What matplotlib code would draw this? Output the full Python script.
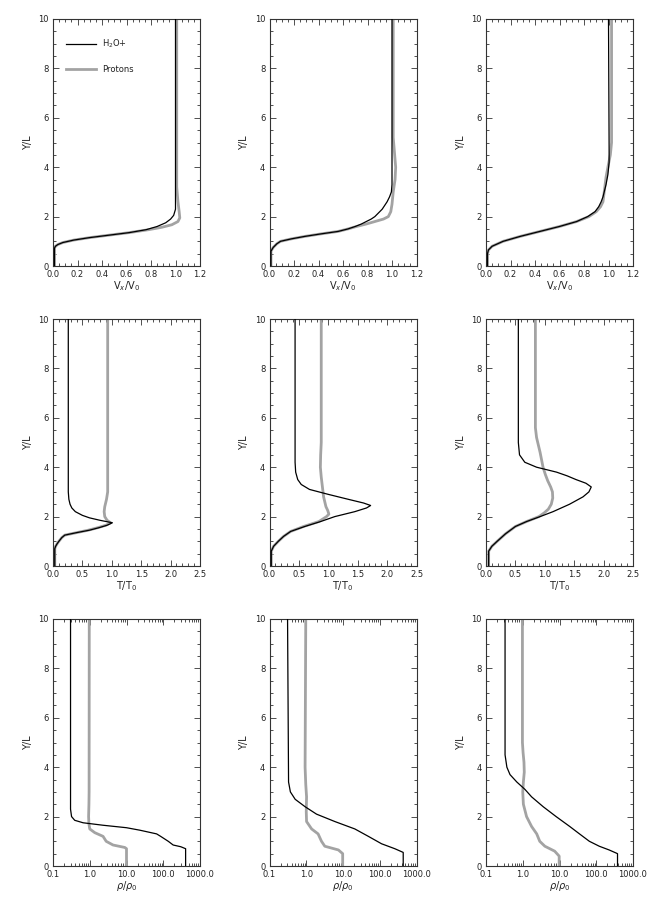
import matplotlib
matplotlib.use("Agg")
import matplotlib.pyplot as plt
from matplotlib.ticker import MultipleLocator, FixedLocator, LogLocator, NullFormatter, FormatStrFormatter

plt.rcParams['font.family'] = ['DejaVu Sans']

# ---- row 1: Vx/V0 ----
vx1_h2o_y = [0, 0.72, 0.8, 0.87, 0.95, 1.05, 1.15, 1.25, 1.35, 1.47, 1.6, 1.75, 1.9, 2.05, 2.3, 2.6, 10]
vx1_h2o = [0.012, 0.012, 0.02, 0.04, 0.08, 0.17, 0.3, 0.46, 0.62, 0.76, 0.85, 0.92, 0.96, 0.985, 1.0, 1.0, 1.0]
vx1_pro_y = [0, 0.72, 0.8, 0.87, 0.95, 1.05, 1.15, 1.25, 1.35, 1.47, 1.57, 1.67, 1.8, 1.95, 2.2, 2.6, 3.2, 10]
vx1_pro = [0.012, 0.012, 0.02, 0.04, 0.08, 0.17, 0.3, 0.46, 0.62, 0.78, 0.89, 0.97, 1.02, 1.035, 1.03, 1.02, 1.01, 1.01]

vx2_h2o_y = [0, 0.6, 0.75, 0.9, 1.0, 1.1, 1.2, 1.3, 1.4, 1.5, 1.6, 1.7, 1.8, 1.9, 2.0, 2.15, 2.3, 2.45, 2.6, 2.8, 3.0, 3.3, 10]
vx2_h2o = [0.012, 0.012, 0.03, 0.06, 0.09, 0.18, 0.29, 0.42, 0.56, 0.64, 0.70, 0.75, 0.79, 0.83, 0.86, 0.89, 0.92, 0.94, 0.96, 0.98, 0.995, 1.0, 1.0]
vx2_pro_y = [0, 0.6, 0.75, 0.9, 1.0, 1.1, 1.2, 1.3, 1.4, 1.5, 1.6, 1.7, 1.8, 1.9, 2.0, 2.2, 2.5, 3.0, 3.5, 4.0, 4.6, 5.2, 10]
vx2_pro = [0.012, 0.012, 0.03, 0.06, 0.09, 0.18, 0.29, 0.42, 0.56, 0.64, 0.71, 0.79, 0.86, 0.93, 0.97, 0.99, 1.0, 1.01, 1.025, 1.03, 1.02, 1.01, 1.01]

vx3_h2o_y = [0, 0.5, 0.65, 0.8, 1.0, 1.2, 1.4, 1.6, 1.8, 2.0, 2.2, 2.4, 2.6, 2.8, 3.0, 3.3, 3.7, 4.2, 4.8, 10]
vx3_h2o = [0.012, 0.012, 0.02, 0.05, 0.14, 0.28, 0.44, 0.6, 0.74, 0.83, 0.89, 0.92, 0.94, 0.955, 0.965, 0.98, 0.995, 1.005, 1.005, 1.0]
vx3_pro_y = [0, 0.5, 0.65, 0.8, 1.0, 1.2, 1.4, 1.6, 1.8, 2.0, 2.2, 2.4, 2.6, 2.8, 3.2, 3.6, 4.0, 4.5, 5.0, 5.5, 10]
vx3_pro = [0.012, 0.012, 0.02, 0.05, 0.14, 0.28, 0.44, 0.6, 0.74, 0.84, 0.9, 0.935, 0.955, 0.96, 0.97, 0.98, 0.995, 1.015, 1.025, 1.025, 1.025]

# ---- row 2: T/T0 ----
t1_h2o_y = [0, 0.7, 0.8, 0.9, 1.0, 1.15, 1.25, 1.3, 1.35, 1.45, 1.55, 1.65, 1.75, 1.85, 1.95, 2.05, 2.2, 2.35, 2.5, 2.7, 3.0, 10]
t1_h2o = [0.03, 0.03, 0.045, 0.07, 0.1, 0.15, 0.2, 0.3, 0.4, 0.62, 0.78, 0.92, 1.01, 0.8, 0.62, 0.5, 0.38, 0.32, 0.29, 0.27, 0.26, 0.26]
t1_pro_y = [0, 0.7, 0.8, 0.9, 1.0, 1.15, 1.25, 1.3, 1.35, 1.45, 1.55, 1.65, 1.75, 1.85, 2.0, 2.2, 2.4, 2.7, 3.0, 10]
t1_pro = [0.03, 0.03, 0.045, 0.07, 0.1, 0.15, 0.2, 0.3, 0.4, 0.6, 0.76, 0.9, 0.98, 0.92, 0.88, 0.87, 0.88, 0.91, 0.93, 0.93]

t2_h2o_y = [0, 0.6, 0.8, 1.0, 1.2, 1.4, 1.6, 1.8, 2.0, 2.2, 2.35, 2.45, 2.55, 2.7, 2.9, 3.1, 3.3, 3.5, 3.8, 4.2, 10]
t2_h2o = [0.03, 0.03, 0.07, 0.15, 0.24, 0.36, 0.6, 0.87, 1.11, 1.45, 1.65, 1.72, 1.6, 1.34, 1.0, 0.68, 0.54, 0.48, 0.445, 0.435, 0.435]
t2_pro_y = [0, 0.6, 0.8, 1.0, 1.2, 1.4, 1.6, 1.8, 2.0, 2.1, 2.25, 2.4, 2.8, 3.2, 3.6, 4.0, 4.5, 5.0, 10]
t2_pro = [0.03, 0.03, 0.07, 0.15, 0.24, 0.36, 0.58, 0.84, 0.97, 1.01, 0.99, 0.96, 0.92, 0.9, 0.88, 0.865, 0.87, 0.88, 0.88]

t3_h2o_y = [0, 0.6, 0.8, 1.0, 1.3, 1.6, 1.8, 2.0, 2.2, 2.5, 2.8, 3.0, 3.2, 3.35, 3.5, 3.65, 3.8, 4.0, 4.2, 4.5, 5.0, 10]
t3_h2o = [0.045, 0.045, 0.1, 0.19, 0.33, 0.5, 0.69, 0.92, 1.14, 1.42, 1.65, 1.75, 1.79, 1.7, 1.53, 1.38, 1.2, 0.86, 0.66, 0.57, 0.55, 0.55]
t3_pro_y = [0, 0.6, 0.8, 1.0, 1.3, 1.6, 1.8, 2.0, 2.15, 2.3, 2.5, 2.75, 3.0, 3.2, 3.45, 3.7, 4.0, 4.6, 5.2, 5.6, 10]
t3_pro = [0.045, 0.045, 0.1, 0.19, 0.33, 0.5, 0.69, 0.9, 0.99, 1.06, 1.11, 1.135, 1.13, 1.1, 1.05, 1.01, 0.97, 0.92, 0.86, 0.84, 0.84]

# ---- row 3: rho/rho0 ----
r1_h2o_y = [0, 0.7, 0.78, 0.85, 1.0, 1.2, 1.3, 1.45, 1.55, 1.65, 1.75, 1.85, 2.0, 2.3, 2.7, 10]
r1_h2o = [406, 406, 300, 186, 137, 85, 66, 23, 10, 2.3, 0.66, 0.39, 0.32, 0.30, 0.30, 0.30]
r1_pro_y = [0, 0.7, 0.75, 0.85, 1.0, 1.2, 1.35, 1.5, 1.7, 2.0, 2.5, 3.0, 10]
r1_pro = [10, 10, 9, 4.3, 2.8, 2.3, 1.37, 1.0, 0.95, 0.93, 0.95, 0.96, 0.97]

r2_h2o_y = [0, 0.55, 0.7, 0.9, 1.2, 1.5, 1.8, 2.1, 2.4, 2.7, 3.0, 3.4, 10]
r2_h2o = [435, 435, 257, 112, 49, 21, 6, 1.9, 0.93, 0.5, 0.37, 0.33, 0.31]
r2_pro_y = [0, 0.5, 0.65, 0.8, 1.0, 1.3, 1.5, 1.8, 2.2, 2.8, 3.3, 4.0, 10]
r2_pro = [9.8, 9.8, 7.5, 3.2, 2.6, 2.1, 1.4, 1.02, 1.0, 1.02, 0.97, 0.93, 0.97]

r3_h2o_y = [0, 0.5, 0.65, 0.8, 1.0, 1.3, 1.6, 2.0, 2.4, 2.8, 3.1, 3.4, 3.7, 4.0, 4.5, 10]
r3_h2o = [379, 379, 224, 121, 65, 35, 19, 8.1, 3.6, 1.74, 1.15, 0.69, 0.45, 0.37, 0.33, 0.33]
r3_pro_y = [0, 0.4, 0.6, 0.8, 1.0, 1.3, 1.6, 2.0, 2.5, 3.0, 3.4, 3.8, 4.2, 4.6, 5.0, 10]
r3_pro = [9.8, 9.8, 7.4, 4.0, 2.9, 2.4, 1.74, 1.27, 1.04, 1.0, 1.04, 1.1, 1.08, 1.02, 0.98, 0.98]

series_labels = ['H$_2$O+', 'Protons']
x_labels = ['V$_x$/V$_0$', 'T/T$_0$', r'$\rho$/$\rho_0$']
log_ticks = [0.1, 1.0, 10.0, 100.0, 1000.0]
log_ticklabels = ['0.1', '1.0', '10.0', '100.0', '1000.0']

panels = [
    [(vx1_h2o_y, vx1_h2o, vx1_pro_y, vx1_pro),
     (vx2_h2o_y, vx2_h2o, vx2_pro_y, vx2_pro),
     (vx3_h2o_y, vx3_h2o, vx3_pro_y, vx3_pro)],
    [(t1_h2o_y, t1_h2o, t1_pro_y, t1_pro),
     (t2_h2o_y, t2_h2o, t2_pro_y, t2_pro),
     (t3_h2o_y, t3_h2o, t3_pro_y, t3_pro)],
    [(r1_h2o_y, r1_h2o, r1_pro_y, r1_pro),
     (r2_h2o_y, r2_h2o, r2_pro_y, r2_pro),
     (r3_h2o_y, r3_h2o, r3_pro_y, r3_pro)],
]

TXT = '#222222'
fig = plt.figure(figsize=(6.5, 9), dpi=100)

lefts = [53 / 650, 269.5 / 650, 486 / 650]
bottoms = [1 - 266 / 900, 1 - 566 / 900, 1 - 866 / 900]
w = 147 / 650
h = 247 / 900

for r in range(3):
    for c in range(3):
        ax = fig.add_axes([lefts[c], bottoms[r], w, h])
        hy, hx, py, px = panels[r][c]
        ax.plot(hx, hy, color='black', lw=0.9, label=series_labels[0], zorder=3)
        ax.plot(px, py, color='#a3a3a3', lw=2.0, label=series_labels[1], zorder=2)

        ax.set_ylim(0, 10)
        ax.yaxis.set_major_locator(MultipleLocator(2))
        ax.yaxis.set_minor_locator(MultipleLocator(0.5))
        if r == 0:
            ax.set_xlim(0, 1.2)
            ax.xaxis.set_major_locator(MultipleLocator(0.2))
            ax.xaxis.set_minor_locator(MultipleLocator(0.05))
            ax.xaxis.set_major_formatter(FormatStrFormatter('%.1f'))
        elif r == 1:
            ax.set_xlim(0, 2.5)
            ax.xaxis.set_major_locator(MultipleLocator(0.5))
            ax.xaxis.set_minor_locator(MultipleLocator(0.1))
            ax.xaxis.set_major_formatter(FormatStrFormatter('%.1f'))
        else:
            ax.set_xscale('log')
            ax.set_xlim(0.1, 1000)
            ax.xaxis.set_major_locator(FixedLocator(log_ticks))
            ax.xaxis.set_minor_locator(LogLocator(base=10, subs=range(2, 10), numticks=20))
            ax.xaxis.set_minor_formatter(NullFormatter())
            ax.set_xticklabels(log_ticklabels)

        ax.tick_params(which='both', direction='in', top=True, right=True,
                       colors='#333333', labelcolor=TXT, labelsize=6, width=0.6)
        ax.tick_params(which='major', length=4, pad=3)
        ax.tick_params(which='minor', length=2)
        for sp in ax.spines.values():
            sp.set_linewidth(0.8)
            sp.set_color('#333333')

        ax.set_ylabel('Y/L', fontsize=7, color=TXT, labelpad=4)
        ax.set_xlabel(x_labels[r], fontsize=7, color=TXT, labelpad=0)

        if r == 0 and c == 0:
            ax.legend(loc='upper left', bbox_to_anchor=(0.04, 0.955), frameon=False,
                      fontsize=6, handlelength=3.6, handletextpad=0.7,
                      labelspacing=1.8, labelcolor=TXT)

fig.savefig('out.png', dpi=100, facecolor='white')
